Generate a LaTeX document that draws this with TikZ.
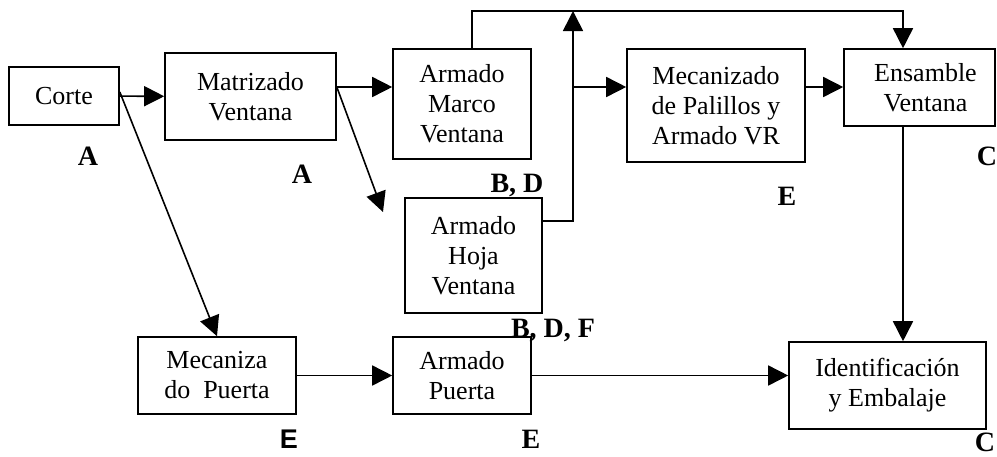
\documentclass[tikz,border=0pt]{standalone}
\usepackage{fontspec}
\setmainfont{Liberation Serif}
\newfontfamily\labelsans{Liberation Sans}
\usetikzlibrary{arrows.meta}
\begin{document}
\begin{tikzpicture}[x=1pt,y=-1pt,
  box/.style={draw, line width=1.6pt, inner sep=0pt, align=center,
    font=\fontsize{26}{30}\selectfont},
  tag/.style={font=\fontsize{28}{30}\selectfont\bfseries, inner sep=0pt, anchor=base},
  flow/.style={line width=1.6pt, -{Triangle[length=20pt,width=20pt]}},
  plain/.style={line width=1.6pt}]
\useasboundingbox (0,0) rectangle (997,456);

% process boxes
\node[box, minimum width=110pt, minimum height=58pt] (corte) at (64,96) {Corte};
\node[box, minimum width=171pt, minimum height=87pt] (matriz) at (250.5,96.5) {Matrizado\\Ventana};
\node[box, minimum width=138pt, minimum height=110pt] (marco) at (462,104) {Armado\\Marco\\Ventana};
\node[box, minimum width=137pt, minimum height=115pt] (hoja) at (473.5,255.5) {Armado\\Hoja\\Ventana};
\node[box, minimum width=178pt, minimum height=113pt] (mecan) at (716,105.5) {Mecanizado\\de Palillos y\\Armado VR};
\node[box, minimum width=151pt, minimum height=77pt] (ens) at (919.5,87.5) {\hspace*{12pt}Ensamble\\\hspace*{12pt}Ventana};
\node[box, minimum width=197pt, minimum height=87pt] (ident) at (887.5,385.5) {Identificación\\y Embalaje};
\node[box, minimum width=158pt, minimum height=77pt] (mpuerta) at (217,375.5) {Mecaniza\\do~~Puerta};
\node[box, minimum width=138pt, minimum height=77pt] (apuerta) at (462,375.5) {Armado\\Puerta};

% station letters
\node[tag] (tA1) at (88,165) {A};
\node[tag] (tA2) at (302,183) {A};
\node[tag] (tBD) at (517,192) {B, D};
\node[tag] (tBDF) at (553,337) {B, D, F};
\node[tag] (tE1) at (787,205) {E};
\node[tag] (tC1) at (987,165) {C};
\node[tag] (tC2) at (985,451) {C};
\node[tag, font=\fontsize{27}{30}\selectfont\labelsans\bfseries] (tE2) at (289,448) {E};
\node[tag] (tE3) at (531,448) {E};

% routing points
\coordinate (j1) at (573,87);
\coordinate (hj) at (573,221);
\coordinate (top1) at (472,11);
\coordinate (top2) at (903,11);
\coordinate (top3) at (573,11);
\coordinate (hojatip) at (383,212);

% connectors
\draw[flow] (corte) -- (matriz);
\draw[flow] (matriz.east |- j1) -- (marco.west |- j1);
\draw[flow] (matriz.east |- j1) -- (hojatip);
\draw[flow] ([yshift=4pt]corte.east) -- (mpuerta.north);
\draw[flow] (marco.north -| top1) -- (top1) -- (top2) -- (ens.north -| top2);
\draw[flow] (hoja.east |- hj) -- (hj) -- (top3);
\draw[flow] (j1) -- (mecan.west |- j1);
\draw[flow] (mecan.east |- j1) -- (ens.west |- j1);
\draw[flow] (ens.south -| top2) -- (ident.north -| top2);
\draw[flow] (mpuerta) -- (apuerta);
\draw[flow] (apuerta) -- (ident.west |- apuerta);
\end{tikzpicture}
\end{document}
